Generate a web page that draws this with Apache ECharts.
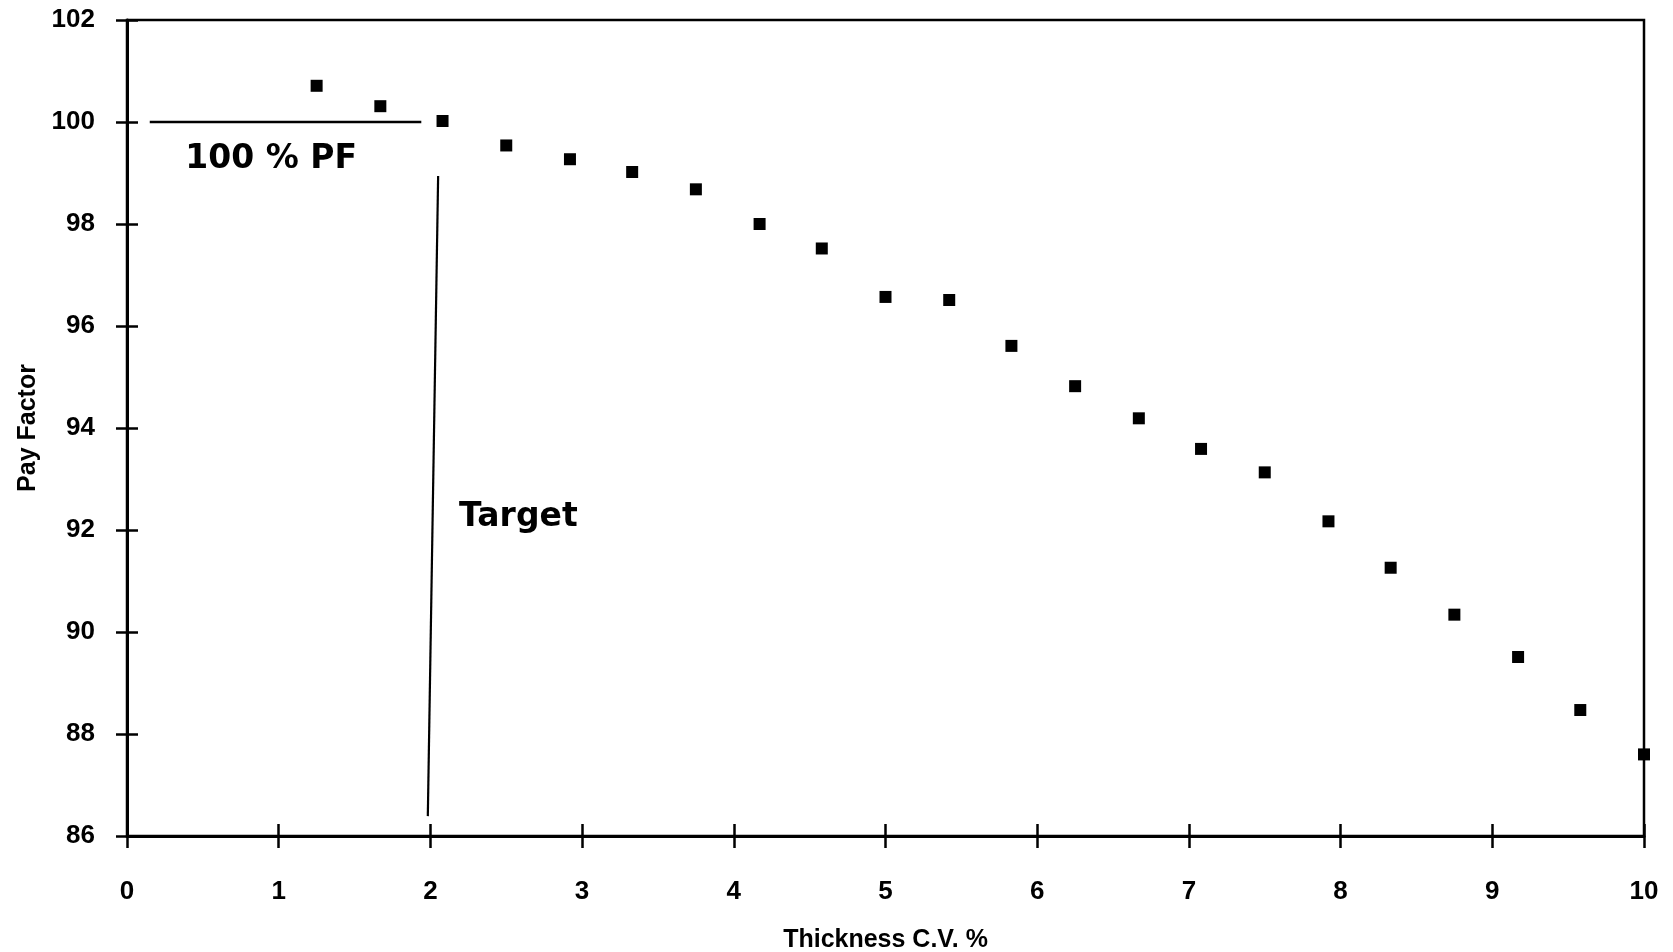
<!DOCTYPE html>
<html><head><meta charset="utf-8">
<script src="https://cdn.jsdelivr.net/npm/echarts@6/dist/echarts.min.js"></script>
<style>html,body{margin:0;padding:0;background:#fff}#c{width:1673px;height:952px}</style>
</head><body><div id="c"></div>
<script>
// Data
const cvPercent = [1.25, 1.67, 2.08, 2.5, 2.92, 3.33, 3.75, 4.17, 4.58, 5.0, 5.42, 5.83, 6.25, 6.67, 7.08, 7.5, 7.92, 8.33, 8.75, 9.17, 9.58, 10.0];
const payFactor = [100.71, 100.31, 100.02, 99.54, 99.27, 99.02, 98.68, 98.0, 97.52, 96.57, 96.51, 95.61, 94.82, 94.19, 93.59, 93.13, 92.17, 91.26, 90.34, 89.51, 88.47, 87.6];
const xTicks = [0, 1, 2, 3, 4, 5, 6, 7, 8, 9, 10];
const yTicks = [86, 88, 90, 92, 94, 96, 98, 100, 102];
const pfLineX = [0.15, 1.94];
const pfLineY = [100, 100];
const targetLineX = [2.051, 1.983];
const targetLineY = [98.94, 86.39];
const annotationText = ['100 % PF', 'Target'];
const annotationX = [0.95, 2.58];
const annotationY = [99.26, 92.24];

const tickFont = "'Liberation Sans', Arial, sans-serif";
const chart = echarts.init(document.getElementById('c'), null, {renderer: 'canvas'});

const pts = cvPercent.map((x, i) => [x, payFactor[i]]);
const pfLine = pfLineX.map((x, i) => [x, pfLineY[i]]);
const targetLine = targetLineX.map((x, i) => [x, targetLineY[i]]);
const annos = annotationText.map((t, i) => ({name: t, value: [annotationX[i], annotationY[i]]}));

const xMin = xTicks[0], xMax = xTicks[xTicks.length - 1];
const yMin = yTicks[0], yMax = yTicks[yTicks.length - 1];

chart.setOption({
  animation: false,
  backgroundColor: '#fff',
  grid: {left: 127, right: 29, top: 20, bottom: 116, containLabel: false, outerBoundsMode: 'none',
         show: true, borderColor: '#000', borderWidth: 2.5, backgroundColor: 'transparent'},
  xAxis: [{
    type: 'value', min: xMin, max: xMax, interval: 1,
    name: 'Thickness C.V. %', nameLocation: 'middle', nameGap: 92,
    nameTextStyle: {fontFamily: "'Liberation Sans', Arial, sans-serif", fontWeight: 'bold', fontSize: 25, color: '#000'},
    axisLine: {show: true, onZero: false, lineStyle: {color: '#000', width: 3}},
    axisTick: {show: true, inside: false, length: 12, lineStyle: {color: '#000', width: 2.5}},
    axisLabel: {show: true, margin: 43, fontFamily: tickFont, fontWeight: 'bold', fontSize: 26, color: '#000'},
    splitLine: {show: false}
  }, {
    type: 'value', min: xMin, max: xMax, interval: 1, position: 'bottom',
    axisLine: {show: false},
    axisTick: {show: true, inside: true, length: 12, lineStyle: {color: '#000', width: 2.5}},
    axisLabel: {show: false}, splitLine: {show: false}
  }],
  yAxis: [{
    type: 'value', min: yMin, max: yMax, interval: 2,
    name: 'Pay Factor', nameLocation: 'middle', nameGap: 86, nameRotate: 90,
    nameTextStyle: {fontFamily: "'Liberation Sans', Arial, sans-serif", fontWeight: 'bold', fontSize: 25, color: '#000'},
    axisLine: {show: true, onZero: false, lineStyle: {color: '#000', width: 3}},
    axisTick: {show: true, inside: false, length: 11, lineStyle: {color: '#000', width: 2.5}},
    axisLabel: {show: true, margin: 32, fontFamily: tickFont, fontWeight: 'bold', fontSize: 26, color: '#000'},
    splitLine: {show: false}
  }, {
    type: 'value', min: yMin, max: yMax, interval: 2, position: 'left',
    axisLine: {show: false},
    axisTick: {show: true, inside: true, length: 11, lineStyle: {color: '#000', width: 2.5}},
    axisLabel: {show: false}, splitLine: {show: false}
  }],
  series: [{
    type: 'scatter', data: pts, symbol: 'rect', symbolSize: 12, clip: false,
    itemStyle: {color: '#000', opacity: 1}
  }, {
    type: 'line', data: pfLine, symbol: 'none', lineStyle: {color: '#000', width: 2.5, opacity: 1}
  }, {
    type: 'line', data: targetLine, symbol: 'none', lineStyle: {color: '#000', width: 2.2, opacity: 1}
  }, {
    type: 'scatter', data: annos, symbolSize: 0, silent: true,
    itemStyle: {opacity: 1},
    label: {show: true, position: 'inside', formatter: '{b}', fontFamily: "'DejaVu Sans', sans-serif", fontWeight: 'bold', fontSize: 33, color: '#000', opacity: 1}
  }]
});
</script></body></html>
